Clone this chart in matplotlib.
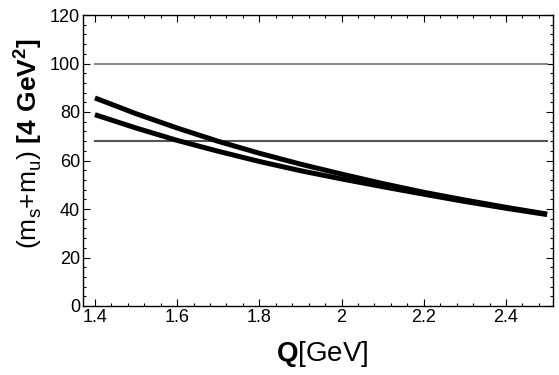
import matplotlib
matplotlib.use('Agg')
import matplotlib.pyplot as plt
from matplotlib.ticker import MultipleLocator

plt.rcParams['font.family'] = ['Liberation Sans', 'DejaVu Sans']
plt.rcParams['mathtext.fontset'] = 'custom'
plt.rcParams['mathtext.rm'] = 'Liberation Sans'
plt.rcParams['mathtext.bf'] = 'Liberation Sans:bold'

# values
q = [1.4, 1.5, 1.6, 1.7, 1.8, 1.9, 2.0, 2.1, 2.2, 2.3, 2.4, 2.5]
upper = [85.8, 79.3, 73.4, 67.9, 63.0, 58.5, 54.4, 50.5, 46.9, 43.7, 40.7, 37.9]
lower = [78.9, 73.4, 68.3, 63.8, 59.6, 55.8, 52.4, 49.2, 46.1, 43.1, 40.3, 37.7]
h_levels = [100, 68]
h_colors = ['#888888', '#555555']

fig = plt.figure(figsize=(5.59, 3.75), dpi=100)
ax = fig.add_axes([0.1485, 0.184, 0.8405, 0.776])

for level, col in zip(h_levels, h_colors):
    ax.plot([q[0], q[-1]], [level, level], color=col, lw=1.5)
ax.plot(q, upper, color='black', lw=3.6, solid_capstyle='butt', solid_joinstyle='round')
ax.plot(q, lower, color='black', lw=3.6, solid_capstyle='butt', solid_joinstyle='round')

ax.set_xlim(1.371, 2.514)
ax.set_ylim(0, 120)
ax.xaxis.set_minor_locator(MultipleLocator(0.04))
ax.yaxis.set_major_locator(MultipleLocator(20))
ax.yaxis.set_minor_locator(MultipleLocator(4))
ax.set_xticks([1.4, 1.6, 1.8, 2.0, 2.2, 2.4])
ax.set_xticklabels(['1.4', '1.6', '1.8', '2', '2.2', '2.4'])
ax.tick_params(which='both', direction='in', top=True, right=True, labelsize=13, width=0.8)
ax.tick_params(which='major', length=5, pad=2)
ax.tick_params(which='minor', length=2.5)
for s in ax.spines.values():
    s.set_linewidth(1.0)

ax.set_xlabel(r'$\mathbf{Q}$[GeV]', fontsize=20)
ax.set_ylabel(r'(m$_\mathrm{s}$+m$_\mathrm{u}$) $\mathbf{[4\ GeV^2]}$', fontsize=19)
ax.xaxis.set_label_coords(0.51, -0.115)
ax.yaxis.set_label_coords(-0.08, 0.558)

fig.savefig('out.png', dpi=100)
